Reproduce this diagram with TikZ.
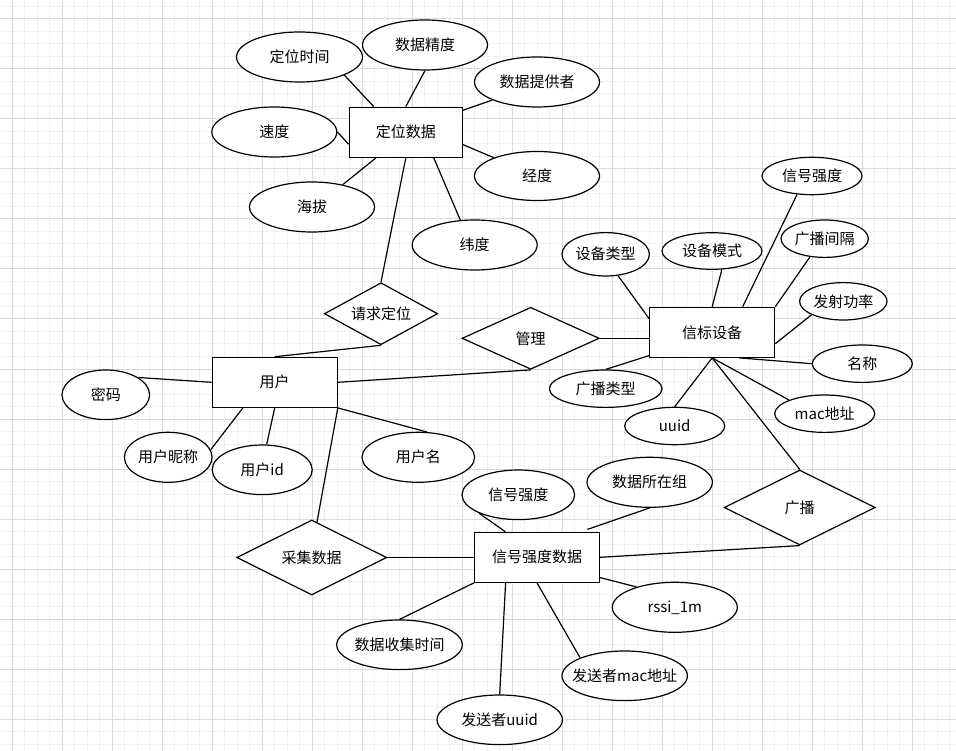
\documentclass[tikz,border=0pt]{standalone}
\usepackage{fontspec}
\setmainfont{Noto Sans CJK SC}
\usetikzlibrary{shapes.geometric,calc}
\newcommand{\mytxt}[1]{\makebox[0pt]{#1}}
\definecolor{gmajor}{RGB}{218,218,218}
\definecolor{gminor}{RGB}{241,241,241}
\tikzset{
  ent/.style={draw, rectangle, fill=white, minimum height=50, inner sep=0, line width=1.2pt},
  attr/.style={draw, ellipse, fill=white, inner sep=0, line width=1.2pt},
  rel/.style={draw, diamond, fill=white, inner sep=0, line width=1.2pt},
  conn/.style={line width=1.2pt},
  minorline/.style={draw=gminor, line width=1pt},
  majorline/.style={draw=gmajor, line width=1pt},
}
\begin{document}
\begin{tikzpicture}[x=1pt, y=-1pt, font=\fontsize{15}{18}\selectfont]
\useasboundingbox (0,0) rectangle (956,751);
\fill[white] (0,0) rectangle (956,751);
% grid
\foreach \k in {0,...,77} {
  \pgfmathsetmacro{\gx}{-0.5+12.5*\k}
  \draw[minorline] (\gx,0) -- (\gx,751);
}
\foreach \k in {0,...,60} {
  \pgfmathsetmacro{\gy}{6.5+12.5*\k}
  \draw[minorline] (0,\gy) -- (956,\gy);
}
\foreach \k in {0,...,19} {
  \pgfmathsetmacro{\gx}{12+50*\k}
  \draw[majorline] (\gx,0) -- (\gx,751);
}
\foreach \k in {0,...,14} {
  \pgfmathsetmacro{\gy}{19+50*\k}
  \draw[majorline] (0,\gy) -- (956,\gy);
}

% entities
\node[ent, minimum width=113] (LD) at (405.8,132.2) {定位数据};
\node[ent, minimum width=125] (XB) at (712.2,332.3) {信标设备};
\node[ent, minimum width=125] (YH) at (274.7,382.3) {用户};
\node[ent, minimum width=125] (XQ) at (537,557.3) {信号强度数据};

% relationships
\node[rel, minimum width=113.3, minimum height=62] (D1) at (381,313.7) {\mytxt{请求定位}};
\node[rel, minimum width=137.3, minimum height=62] (D2) at (530.7,338.3) {\mytxt{管理}};
\node[rel, minimum width=150, minimum height=75] (D3) at (311.7,557.5) {\mytxt{采集数据}};
\node[rel, minimum width=151, minimum height=75] (D4) at (799.7,507.5) {\mytxt{广播}};

% attributes of 定位数据
\node[attr, minimum width=126, minimum height=50] (E1) at (299.5,57) {\mytxt{定位时间}};
\node[attr, minimum width=125, minimum height=50] (E2) at (425,45) {\mytxt{数据精度}};
\node[attr, minimum width=125, minimum height=50] (E3) at (537,82) {\mytxt{数据提供者}};
\node[attr, minimum width=125, minimum height=50] (E4) at (274.3,132) {\mytxt{速度}};
\node[attr, minimum width=125, minimum height=49] (E5) at (537,176) {\mytxt{经度}};
\node[attr, minimum width=125, minimum height=50] (E6) at (312,207) {\mytxt{海拔}};
\node[attr, minimum width=125, minimum height=50] (E7) at (474.7,245) {\mytxt{纬度}};

% attributes of 信标设备
\node[attr, minimum width=100, minimum height=37.4] (F1) at (812,176) {\mytxt{信号强度}};
\node[attr, minimum width=87.4, minimum height=37.4] (F2) at (824.7,238.7) {\mytxt{广播间隔}};
\node[attr, minimum width=87.4, minimum height=43.4] (F3) at (605.7,254.3) {\mytxt{设备类型}};
\node[attr, minimum width=100, minimum height=36.6] (F4) at (712,251) {\mytxt{设备模式}};
\node[attr, minimum width=87.4, minimum height=37.4] (F5) at (843.3,301.3) {\mytxt{发射功率}};
\node[attr, minimum width=100, minimum height=37.4] (F6) at (862.3,363.7) {\mytxt{名称}};
\node[attr, minimum width=112.6, minimum height=37.4] (F7) at (605.7,388.7) {\mytxt{广播类型}};
\node[attr, minimum width=100, minimum height=37.4] (F8) at (674.7,426) {\mytxt{uuid}};
\node[attr, minimum width=100, minimum height=37.4] (F9) at (824.7,413.7) {\mytxt{mac地址}};

% attributes of 用户
\node[attr, minimum width=87.6, minimum height=49.6] (G1) at (105.8,394.8) {\mytxt{密码}};
\node[attr, minimum width=87.6, minimum height=50] (G2) at (168.2,457.3) {\mytxt{用户昵称}};
\node[attr, minimum width=100, minimum height=49.6] (G3) at (262.2,469.8) {\mytxt{用户id}};
\node[attr, minimum width=112.6, minimum height=50] (G4) at (418.3,457.3) {\mytxt{用户名}};

% attributes of 信号强度数据
\node[attr, minimum width=112.6, minimum height=49.6] (H1) at (518.3,494.8) {\mytxt{信号强度}};
\node[attr, minimum width=125.4, minimum height=50] (H2) at (649.7,482.3) {\mytxt{数据所在组}};
\node[attr, minimum width=125, minimum height=50] (H3) at (674.8,607.3) {\mytxt{rssi\_1m}};
\node[attr, minimum width=125.6, minimum height=49.6] (H4) at (399.5,644.8) {\mytxt{数据收集时间}};
\node[attr, minimum width=125.4, minimum height=49.6] (H5) at (499.7,719.8) {\mytxt{发送者uuid}};
\node[attr, minimum width=125.4, minimum height=49.6] (H6) at (624.7,675.8) {\mytxt{发送者mac地址}};

% connectors 定位数据
\draw[conn] (E1.-22) -- ($(LD.north west)+(25,0)$);
\draw[conn] (E2.south) -- (LD.north);
\draw[conn] (E3.202) -- ($(LD.north east)+(0,3.7)$);
\draw[conn] (E4.east) -- ($(LD.north west)+(0,37.7)$);
\draw[conn] (E5.157.6) -- ($(LD.north east)+(0,38)$);
\draw[conn] (E6.36.9) -- ($(LD.south west)+(27.4,0)$);
\draw[conn] (E7.120.8) -- ($(LD.south west)+(85,0)$);
\draw[conn] (LD.south) -- (D1.north);

% connectors 信标设备
\draw[conn] (F1.231) -- ($(XB.north west)+(93.6,0)$);
\draw[conn] (F2.231) -- (XB.north east);
\draw[conn] (F3.300) -- ($(XB.north west)+(0,12)$);
\draw[conn] (F4.298) -- (XB.north);
\draw[conn] (F5.203.4) -- ($(XB.north east)+(0,37)$);
\draw[conn] (F6.west) -- ($(XB.south west)+(90.3,0)$);
\draw[conn] (F7.north) -- ($(XB.south west)+(0,-2.3)$);
\draw[conn] (F8.north) -- (XB.south);
\draw[conn] (F9.159) -- (XB.south);
\draw[conn] (XB.south) -- (D4.north);
\draw[conn] (D2.east) -- (D2.east -| XB.west);

% connectors 用户
\draw[conn] (G1.28.4) -- (YH.west);
\draw[conn] (G2.10.4) -- ($(YH.south west)+(31.3,0)$);
\draw[conn] (G3.80) -- (YH.south);
\draw[conn] (G4.71.4) -- (YH.south east);
\draw[conn] (YH.east) -- (D2.south);
\draw[conn] (YH.north) -- (D1.south);
\draw[conn] (YH.south east) -- ($(D3.north)!0.07!(D3.east)$);

% connectors 信号强度数据
\draw[conn] (H1.205.6) -- ($(XQ.north west)+(31.4,0)$);
\draw[conn] (H2.south) -- ($(XQ.north east)+(-12.7,-2.3)$);
\draw[conn] (H3.152.7) -- ($(XQ.south east)+(0,-5.3)$);
\draw[conn] (H4.north) -- (XQ.south west);
\draw[conn] (H5.north) -- ($(XQ.south west)+(31.7,0)$);
\draw[conn] (H6.158.6) -- (XQ.south);
\draw[conn] (D3.east) -- (D3.east -| XQ.west);
\draw[conn] (D4.south) -- (XQ.east);
\end{tikzpicture}
\end{document}
